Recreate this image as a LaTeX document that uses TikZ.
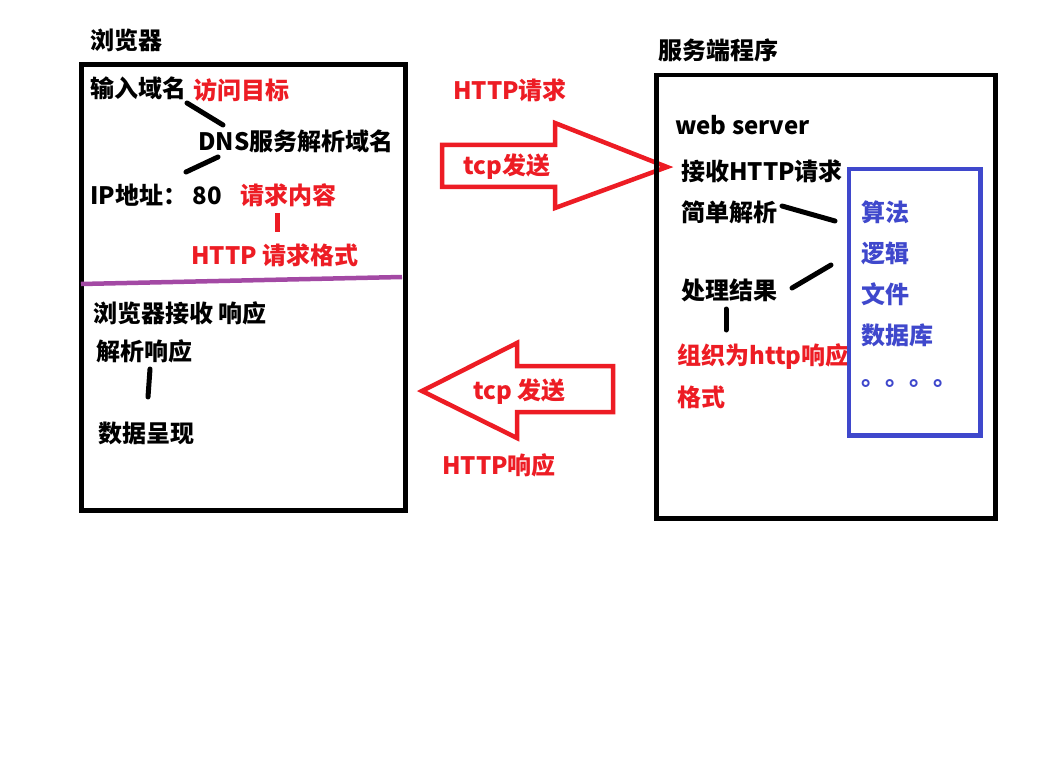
\documentclass[tikz,border=0pt]{standalone}
\usepackage{fontspec}
\setmainfont{Noto Sans CJK SC}
\definecolor{rot}{RGB}{237,28,36}
\definecolor{blau}{RGB}{63,72,204}
\definecolor{lila}{RGB}{163,73,164}

\begin{document}
\begin{tikzpicture}[x=1pt,y=-1pt,
    txt/.style={anchor=west, inner sep=0pt, font=\fontsize{24}{27}\selectfont\bfseries},
    rtxt/.style={txt, text=rot},
    btxt/.style={txt, text=blau},
    kasten/.style={line width=4.5pt, draw=black},
    strich/.style={line width=5pt, line cap=round},
    pfeil/.style={line width=4.5pt, draw=rot, line join=miter}]

    \fill[white] (0,0) rectangle (1040,759);
    \useasboundingbox (0,0) rectangle (1040,759);

    % Browser
        \node[txt] (browser) at (90,40) {浏览器};
        \draw[kasten] (81.5,64.5) rectangle (405.5,510.5);
        \node[txt] (input) at (90,88) {输入域名};
        \node[rtxt] (target) at (193,90) {访问目标};
        \node[txt] (dns) at (198,141) {DNS服务解析域名};
        \node[txt] (ip) at (90,195) {IP地址： 80};
        \node[rtxt] (content) at (240,195) {请求内容};
        \node[rtxt] (format) at (191,255) {HTTP 请求格式};
        \coordinate (s1a) at (187,103);
        \coordinate (s1b) at (223,125);
        \coordinate (s2a) at (186,172);
        \coordinate (s2b) at (218,157);
        \coordinate (s5a) at (277,213);
        \coordinate (s5b) at (277,232);
        \draw[strich] (s1a) -- (s1b);
        \draw[strich] (s2a) -- (s2b);
        \draw[strich, rot, line cap=butt] (s5a) -- (s5b);

        \coordinate (teilL) at (81,284);
        \coordinate (teilR) at (402,277);
        \draw[line width=4.5pt, lila] (teilL) -- (teilR);

        \node[txt] (receive) at (93,313) {浏览器接收 响应};
        \node[txt] (parse) at (96,351) {解析响应};
        \node[txt] (show) at (98,433) {数据呈现};
        \coordinate (s6a) at (150,369);
        \coordinate (s6b) at (148,397);
        \draw[strich] (s6a) -- (s6b);

    % arrows
        \draw[pfeil] (442,145) -- (555,145) -- (555,123) -- (667,167) -- (555,208) -- (555,187) -- (442,187) -- cycle;
        \node[rtxt] (req) at (453,90) {HTTP请求};
        \node[rtxt] (tcp1) at (463,167) {tcp发送};

        \draw[pfeil] (422,391) -- (517,343) -- (517,366) -- (613,366) -- (613,412) -- (517,412) -- (517,438) -- cycle;
        \node[rtxt] (tcp2) at (473,392) {tcp 发送};
        \node[rtxt] (resp) at (442,465) {HTTP响应};

    % Server
        \node[txt] (server) at (658,50) {服务端程序};
        \draw[kasten] (656.5,75) rectangle (995.5,518.5);
        \node[txt] (web) at (675,125) {web server};
        \node[txt] (recv) at (681,171) {接收HTTP请求};
        \node[txt] (simple) at (681,212) {简单解析};
        \node[txt] (result) at (681,290) {处理结果};
        \node[rtxt] (org) at (677,357) {组织为http响应};
        \node[rtxt] (org2) at (677,397) {格式};

        \draw[line width=4.5pt, blau] (849,169) rectangle (980.5,435.5);
        \node[btxt] (algo) at (861,212) {算法};
        \node[btxt] (logic) at (861,253) {逻辑};
        \node[btxt] (file) at (861,294) {文件};
        \node[btxt] (db) at (861,335) {数据库};
        \node[btxt] (dots) at (861,384) {。。。。};

        \coordinate (s3a) at (782,206);
        \coordinate (s3b) at (835,221);
        \coordinate (s4a) at (792,288);
        \coordinate (s4b) at (831,265);
        \coordinate (s7a) at (726,309);
        \coordinate (s7b) at (726,330);
        \draw[strich] (s3a) -- (s3b);
        \draw[strich] (s4a) -- (s4b);
        \draw[strich] (s7a) -- (s7b);

\end{tikzpicture}
\end{document}
